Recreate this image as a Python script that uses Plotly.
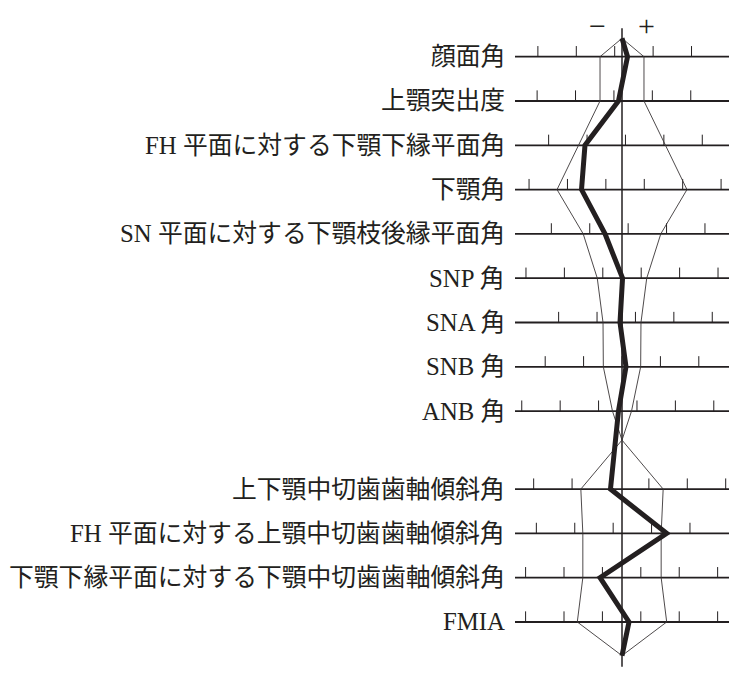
import plotly.graph_objects as go

# 計測項目（上から順に）
labels = [
    '顔面角',
    '上顎突出度',
    'FH 平面に対する下顎下縁平面角',
    '下顎角',
    'SN 平面に対する下顎枝後縁平面角',
    'SNP 角',
    'SNA 角',
    'SNB 角',
    'ANB 角',
    '上下顎中切歯歯軸傾斜角',
    'FH 平面に対する上顎中切歯歯軸傾斜角',
    '下顎下縁平面に対する下顎中切歯歯軸傾斜角',
    'FMIA',
]

# 標準偏差（平均からの幅, 目盛 1 間隔 = 5）
sd = [2.86, 2.86, 5.66, 8.46, 5.05, 3.22, 2.47, 2.43, 1.24, 5.36, 5.1, 5.1, 5.82]

# 症例の値（平均からの偏差）
patient = [0.72, -0.46, -4.82, -5.27, -2.21, 0.07, -0.26, 0.52, -0.46, -1.5, 5.82, -2.86, 0.91]

# 各項目の目盛位置
ticks = [
    [-10.95, -5.95, -0.95, 4.05, 9.05],
    [-11.05, -6.05, -1.05, 3.95, 8.95],
    [-9.55, -4.55, 0.45, 5.45, 10.45],
    [-12.1, -7.1, -2.1, 2.9, 7.9, 12.9],
    [-9.2, -4.2, 0.8, 5.8, 10.8],
    [-12.5, -7.5, -2.5, 2.5, 7.5, 12.5],
    [-8.25, -3.25, 1.75, 6.75, 11.75],
    [-10, -5, 0, 5, 10],
    [-13.05, -8.05, -3.05, 1.95, 6.95, 11.95],
    [-11.5, -6.5, -1.5, 3.5, 8.5, 13.5],
    [-11.15, -6.15, -1.15, 3.85, 8.85],
    [-12.55, -7.55, -2.55, 2.45, 7.45, 12.45],
    [-12.55, -7.55, -2.55, 2.45, 7.45, 12.45],
]

INK = '#231f20'
FONT = 'Liberation Serif, Noto Sans CJK JP, serif'

# 行の位置（骨格系 9 項目と歯系 4 項目の間に隙間）
n_first = 9
row_y = [i if i < n_first else i + 0.76 for i in range(len(labels))]
top_y, mid_y, bottom_y = -0.415, 8.655, 13.52
tick_len = 0.24

fig = go.Figure()

# 目盛
tx, ty = [], []
for y, tk in zip(row_y, ticks):
    for t in tk:
        tx += [t, t, None]
        ty += [y, y - tick_len, None]
fig.add_trace(go.Scatter(x=tx, y=ty, mode='lines', line=dict(color=INK, width=1), hoverinfo='skip'))

# 中心線
fig.add_trace(go.Scatter(x=[0, 0], y=[-0.64, 13.77], mode='lines', line=dict(color=INK, width=1.5), hoverinfo='skip'))

# 標準偏差の範囲（左右）
for sign in (-1, 1):
    ex = [0] + [sign * s for s in sd[:n_first]] + [0] + [sign * s for s in sd[n_first:]] + [0]
    ey = [top_y] + row_y[:n_first] + [mid_y] + row_y[n_first:] + [bottom_y]
    fig.add_trace(go.Scatter(x=ex, y=ey, mode='lines', line=dict(color='#3a3637', width=0.9), hoverinfo='skip'))

# 症例
fig.add_trace(go.Scatter(
    x=[0] + patient + [0], y=[top_y] + row_y + [bottom_y],
    mode='lines', line=dict(color=INK, width=5), hoverinfo='skip',
))

shapes = []
annotations = []
for y, name in zip(row_y, labels):
    shapes.append(dict(type='line', xref='paper', x0=0, x1=1, y0=y, y1=y,
                       line=dict(color=INK, width=1.8), layer='below'))
    annotations.append(dict(xref='paper', x=0, y=y, text=name, showarrow=False,
                            xanchor='right', yanchor='middle', xshift=-8,
                            font=dict(family=FONT, size=24.8, color=INK)))

# 上端の − / +（上に切れないよう上端に合わせる）
for x, sym in ((-3.25, '−'), (3.2, '+')):
    annotations.append(dict(x=x, yref='paper', y=1, yanchor='top', text=sym,
                            showarrow=False, borderpad=0,
                            font=dict(family=FONT, size=30, color=INK)))

# ページ本体の余白 8px を見込んだサイズ
fig.update_layout(
    width=726, height=664,
    margin=dict(l=507, r=5, t=0, b=0),
    paper_bgcolor='white', plot_bgcolor='white',
    showlegend=False,
    xaxis=dict(range=[-13.93, 13.93], visible=False),
    yaxis=dict(range=[13.889, -1.099], visible=False),
    shapes=shapes, annotations=annotations,
)

fig.write_html("out.html")
